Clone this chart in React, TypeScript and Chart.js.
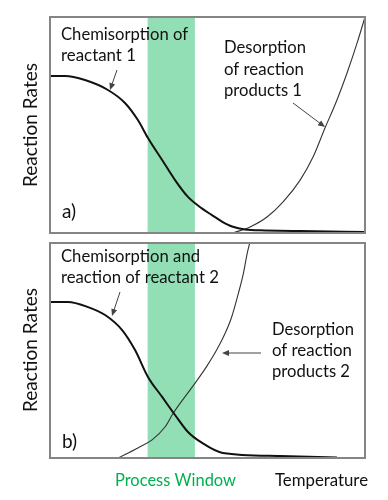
import React, { useEffect, useRef } from "react";
import { Chart, registerables } from "chart.js";

Chart.register(...registerables);

// ---- Data (temperature 0..100, reaction rate 0..100, arbitrary units) ----
const processWindow = [31.0, 46.0];

const chem1X = [0, 4.8, 11.1, 18.4, 23.8, 27.9, 31.1, 35.6, 39.7, 43.8, 48.2, 51.4, 54.6, 57.8, 61.9, 68.3, 79.4, 100];
const chem1Y = [72.7, 72.7, 70.8, 66.2, 60.2, 52.3, 44.0, 33.8, 24.5, 16.7, 11.4, 8.3, 5.3, 3.0, 1.6, 1.2, 0.9, 0.5];
const des1X = [58.1, 63.5, 68.9, 74.0, 79.4, 83.5, 87.3, 91.1, 94.3, 97.5, 100];
const des1Y = [0, 2.8, 7.4, 14.4, 24.5, 35.2, 48.6, 61.6, 74.1, 88.0, 100];

const chem2X = [0, 5.7, 12.1, 17.5, 22.9, 27.0, 31.1, 35.6, 39.7, 43.8, 48.3, 54.9, 73.0, 91.1];
const chem2Y = [72.6, 72.6, 70.2, 66.5, 59.5, 50.2, 37.7, 28.4, 20.0, 12.1, 7.0, 2.3, 0.9, 0.2];
const des2X = [21.6, 27.9, 32.4, 36.5, 39.1, 46.0, 49.7, 52.9, 55.6, 57.7, 59.8, 61.4, 62.6, 63.4];
const des2Y = [0, 4.7, 8.4, 14.4, 20.8, 34.7, 42.5, 50.2, 58.0, 65.7, 76.6, 85.9, 95.2, 100];

const yAxisLabel = "Reaction Rates";
const xAxisLabel = "Temperature";
const windowLabel = "Process Window";

const panelALabels = {
  tag: "a)",
  left: ["Chemisorption of", "reactant 1"],
  right: ["Desorption", "of reaction", "products 1"],
};
const panelBLabels = {
  tag: "b)",
  left: ["Chemisorption and", "reaction of reactant 2"],
  right: ["Desorption", "of reaction", "products 2"],
};

// ---- Styles / layout ----
const FONT = 'Lato, "Open Sans", sans-serif';
const GREEN_BAND = "rgb(146, 222, 181)";
const GREEN_TEXT = "#00b050";
const BORDER = "#858585";
const TEXT = "#111111";
const ARROW = "#444444";

// maximum widths (px) of the text lines, as measured on the reference
const maxW: Record<string, number> = {
  "Chemisorption of": 127,
  "reactant 1": 75,
  "Desorption": 82,
  "of reaction": 80,
  "products 1": 78,
  "products 2": 78,
  "Chemisorption and": 139,
  "reaction of reactant 2": 158,
  "Process Window": 121,
  "Temperature": 93,
  "Reaction Rates": 124,
};

const pts = (xs: number[], ys: number[]) => xs.map((x, i) => ({ x, y: ys[i] }));

function text(ctx: CanvasRenderingContext2D, t: string, x: number, y: number) {
  const w = maxW[t];
  if (w) ctx.fillText(t, x, y, w);
  else ctx.fillText(t, x, y);
}

function drawArrow(ctx: CanvasRenderingContext2D, x1: number, y1: number, x2: number, y2: number) {
  const ang = Math.atan2(y2 - y1, x2 - x1);
  const len = 7;
  const half = 3;
  ctx.save();
  ctx.strokeStyle = ARROW;
  ctx.fillStyle = ARROW;
  ctx.lineWidth = 1;
  ctx.beginPath();
  ctx.moveTo(x1, y1);
  ctx.lineTo(x2 - Math.cos(ang) * len * 0.8, y2 - Math.sin(ang) * len * 0.8);
  ctx.stroke();
  ctx.beginPath();
  ctx.moveTo(x2, y2);
  ctx.lineTo(x2 - Math.cos(ang) * len - Math.sin(ang) * half, y2 - Math.sin(ang) * len + Math.cos(ang) * half);
  ctx.lineTo(x2 - Math.cos(ang) * len + Math.sin(ang) * half, y2 - Math.sin(ang) * len - Math.cos(ang) * half);
  ctx.closePath();
  ctx.fill();
  ctx.restore();
}

type Layout = {
  padding: { left: number; right: number; top: number; bottom: number };
  leftText: [number, number];
  rightText: [number, number];
  tagPos: [number, number];
  arrows: number[][];
  yLabelPos: [number, number];
  footer: boolean;
};

const layoutA: Layout = {
  padding: { left: 50, right: 23, top: 17, bottom: 267 },
  leftText: [61, 39.5],
  rightText: [224, 53.3],
  tagPos: [62, 218],
  arrows: [
    [117, 70, 110, 90],
    [293, 103, 325, 127],
  ],
  yLabelPos: [37, 125],
  footer: false,
};

const layoutB: Layout = {
  padding: { left: 50, right: 23, top: 243, bottom: 42 },
  leftText: [61, 261.7],
  rightText: [272, 334.7],
  tagPos: [62, 448],
  arrows: [
    [120, 292, 112, 316],
    [261, 353, 222, 353],
  ],
  yLabelPos: [37, 350],
  footer: true,
};

function makeChart(canvas: HTMLCanvasElement, chemX: number[], chemY: number[], desX: number[], desY: number[], labels: typeof panelALabels, lay: Layout) {
  const decor = {
    id: "decor",
    beforeDatasetsDraw(chart: any) {
      const { ctx, chartArea: a, scales } = chart;
      const x0 = scales.x.getPixelForValue(processWindow[0]);
      const x1 = scales.x.getPixelForValue(processWindow[1]);
      ctx.save();
      ctx.fillStyle = GREEN_BAND;
      ctx.fillRect(x0, a.top, x1 - x0, a.bottom - a.top);
      ctx.restore();
    },
    afterDatasetsDraw(chart: any) {
      const { ctx, chartArea: a } = chart;
      ctx.save();
      ctx.strokeStyle = BORDER;
      ctx.lineWidth = 2;
      ctx.strokeRect(a.left, a.top, a.right - a.left, a.bottom - a.top);

      ctx.fillStyle = TEXT;
      ctx.textAlign = "left";
      ctx.textBaseline = "alphabetic";
      ctx.font = `17px ${FONT}`;
      labels.left.forEach((t, i) => text(ctx, t, lay.leftText[0], lay.leftText[1] + i * 21));
      labels.right.forEach((t, i) => text(ctx, t, lay.rightText[0], lay.rightText[1] + i * 21.3));
      ctx.font = `19px ${FONT}`;
      text(ctx, labels.tag, lay.tagPos[0], lay.tagPos[1]);

      lay.arrows.forEach((ar) => drawArrow(ctx, ar[0], ar[1], ar[2], ar[3]));

      ctx.save();
      ctx.translate(lay.yLabelPos[0], lay.yLabelPos[1]);
      ctx.rotate(-Math.PI / 2);
      ctx.textAlign = "center";
      ctx.font = `20px ${FONT}`;
      ctx.fillStyle = TEXT;
      text(ctx, yAxisLabel, 0, 0);
      ctx.restore();

      if (lay.footer) {
        ctx.font = `17px ${FONT}`;
        ctx.fillStyle = GREEN_TEXT;
        text(ctx, windowLabel, 115, 486);
        ctx.fillStyle = TEXT;
        text(ctx, xAxisLabel, 275, 486);
      }
      ctx.restore();
    },
  };

  return new Chart(canvas, {
    type: "line",
    data: {
      datasets: [
        {
          data: pts(chemX, chemY),
          borderColor: "#111111",
          borderWidth: 2,
          pointRadius: 0,
          cubicInterpolationMode: "monotone",
          fill: false,
        },
        {
          data: pts(desX, desY),
          borderColor: "#333333",
          borderWidth: 1.1,
          pointRadius: 0,
          cubicInterpolationMode: "monotone",
          fill: false,
        },
      ],
    },
    options: {
      responsive: false,
      animation: false,
      devicePixelRatio: 1,
      layout: { padding: lay.padding },
      plugins: { legend: { display: false }, tooltip: { enabled: false } },
      scales: {
        x: { type: "linear", min: 0, max: 100, display: false },
        y: { type: "linear", min: 0, max: 100, display: false },
      },
    },
    plugins: [decor],
  } as any);
}

export default function App() {
  const refA = useRef<HTMLCanvasElement | null>(null);
  const refB = useRef<HTMLCanvasElement | null>(null);

  useEffect(() => {
    const a = makeChart(refA.current!, chem1X, chem1Y, des1X, des1Y, panelALabels, layoutA);
    const b = makeChart(refB.current!, chem2X, chem2Y, des2X, des2Y, panelBLabels, layoutB);
    return () => {
      a.destroy();
      b.destroy();
    };
  }, []);

  const cs: React.CSSProperties = { position: "absolute", left: 0, top: 0, width: 388, height: 500 };
  return (
    <div style={{ position: "absolute", left: 0, top: 0, width: 388, height: 500, background: "#ffffff" }}>
      <canvas ref={refB} width={388} height={500} style={cs} />
      <canvas ref={refA} width={388} height={500} style={cs} />
    </div>
  );
}
